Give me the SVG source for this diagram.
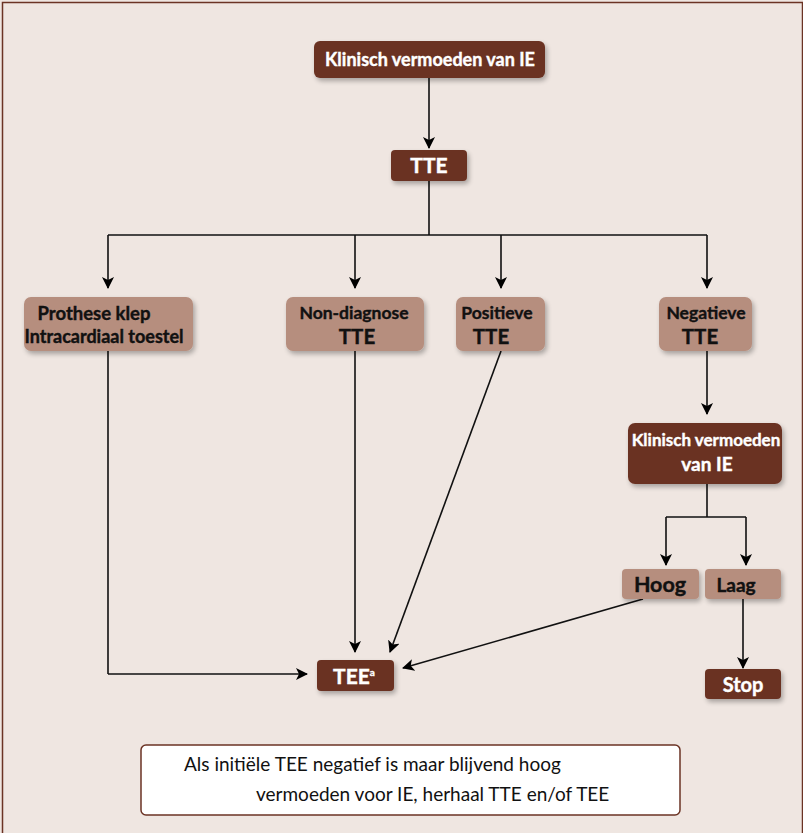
<svg xmlns="http://www.w3.org/2000/svg" width="803" height="833" viewBox="0 0 803 833">
<defs>
<marker id="ah" markerWidth="12" markerHeight="12" viewBox="0 0 12 12" refX="11" refY="6" orient="auto" markerUnits="userSpaceOnUse">
<path d="M0,0 L12,6 L0,12 L3,6 Z" fill="#000"/>
</marker>
<filter id="sh" x="-20%" y="-20%" width="140%" height="160%">
<feGaussianBlur in="SourceAlpha" stdDeviation="2.5"/>
<feOffset dx="2" dy="3" result="b"/>
<feComponentTransfer><feFuncA type="linear" slope="0.3"/></feComponentTransfer>
<feMerge><feMergeNode/><feMergeNode in="SourceGraphic"/></feMerge>
</filter>
</defs>
<style>
.dark{fill:#6B3324;filter:url(#sh)}
.light{fill:#B68E7E;filter:url(#sh)}
.tw{font-family:Lato,"Open Sans","DejaVu Sans",sans-serif;font-weight:bold;fill:#fff;stroke:#fff;stroke-width:0.4;text-anchor:middle}
.tb{font-family:Lato,"Open Sans","DejaVu Sans",sans-serif;font-weight:bold;fill:#111;stroke:#111;stroke-width:0.4;text-anchor:middle}
.c{fill:none;stroke:#111;stroke-width:1.6}
.ca{fill:none;stroke:#111;stroke-width:1.6;marker-end:url(#ah)}
.note{font-family:Lato,"Open Sans","DejaVu Sans",sans-serif;font-size:19px;fill:#111}
</style>
<rect x="0" y="0" width="803" height="833" fill="#EFE6E1"/>
<rect x="2.5" y="2.5" width="800" height="840" fill="none" stroke="#6B3324" stroke-width="1.5"/>

<g id="connectors">
<path class="ca" d="M429,78 V148"/>
<path class="c" d="M429,181 V235"/>
<path class="c" d="M108,235 H707"/>
<path class="ca" d="M108,235 V288"/>
<path class="ca" d="M355,235 V288"/>
<path class="ca" d="M501,235 V288"/>
<path class="ca" d="M707,235 V288"/>
<path class="c" d="M108,351 V674"/>
<path class="ca" d="M108,674 H307"/>
<path class="ca" d="M355,351 V652"/>
<path class="ca" d="M501,351 L390,652"/>
<path class="ca" d="M707,351 V414"/>
<path class="c" d="M707,484 V517"/>
<path class="c" d="M666,517 H746"/>
<path class="ca" d="M666,517 V565"/>
<path class="ca" d="M746,517 V565"/>
<path class="ca" d="M643,599 L403,668"/>
<path class="ca" d="M743,599 V668"/>
</g>

<g id="n-klinisch-top">
<rect class="dark" x="314" y="41" width="231" height="37" rx="6"/>
<text class="tw" x="430" y="66" font-size="18">Klinisch vermoeden van IE</text>
</g>
<g id="n-tte">
<rect class="dark" x="391" y="150" width="76" height="31" rx="4"/>
<text class="tw" x="429" y="173" font-size="21">TTE</text>
</g>
<g id="n-prothese">
<rect class="light" x="24" y="297" width="169" height="54" rx="7"/>
<text class="tb" x="94" y="320" font-size="18.5">Prothese klep</text>
<text class="tb" x="104" y="343" font-size="18">Intracardiaal toestel</text>
</g>
<g id="n-nondiag">
<rect class="light" x="286" y="297" width="138" height="54" rx="7"/>
<text class="tb" x="354" y="319" font-size="17.5">Non-diagnose</text>
<text class="tb" x="357" y="344" font-size="20.5">TTE</text>
</g>
<g id="n-positieve">
<rect class="light" x="456" y="297" width="89" height="54" rx="7"/>
<text class="tb" x="497" y="319" font-size="17.5">Positieve</text>
<text class="tb" x="491" y="344" font-size="20.5">TTE</text>
</g>
<g id="n-negatieve">
<rect class="light" x="659" y="297" width="93" height="54" rx="7"/>
<text class="tb" x="706" y="319" font-size="17.5">Negatieve</text>
<text class="tb" x="700" y="344" font-size="20.5">TTE</text>
</g>
<g id="n-klinisch-right">
<rect class="dark" x="628" y="423" width="154" height="61" rx="7"/>
<text class="tw" x="706" y="446" font-size="17">Klinisch vermoeden</text>
<text class="tw" x="707" y="471" font-size="19">van IE</text>
</g>
<g id="n-hoog">
<rect class="light" x="622" y="569" width="77" height="30" rx="4"/>
<text class="tb" x="660" y="592" font-size="21.5">Hoog</text>
</g>
<g id="n-laag">
<rect class="light" x="705" y="569" width="76" height="30" rx="4"/>
<text class="tb" x="736" y="592" font-size="19">Laag</text>
</g>
<g id="n-stop">
<rect class="dark" x="705" y="669" width="76" height="30" rx="4"/>
<text class="tw" x="743" y="692" font-size="20">Stop</text>
</g>
<g id="n-tee">
<rect class="dark" x="317" y="660" width="77" height="31" rx="4"/>
<text class="tw" x="354" y="684" font-size="21">TEE<tspan font-size="10" dy="-8">a</tspan></text>
</g>
<g id="n-note">
<rect x="141" y="745" width="539" height="70" rx="5" fill="#fff" stroke="#6B3324" stroke-width="1.5"/>
<text class="note" x="184" y="771">Als initiële TEE negatief is maar blijvend hoog</text>
<text class="note" x="256" y="801">vermoeden voor IE, herhaal TTE en/of TEE</text>
</g>
</svg>
